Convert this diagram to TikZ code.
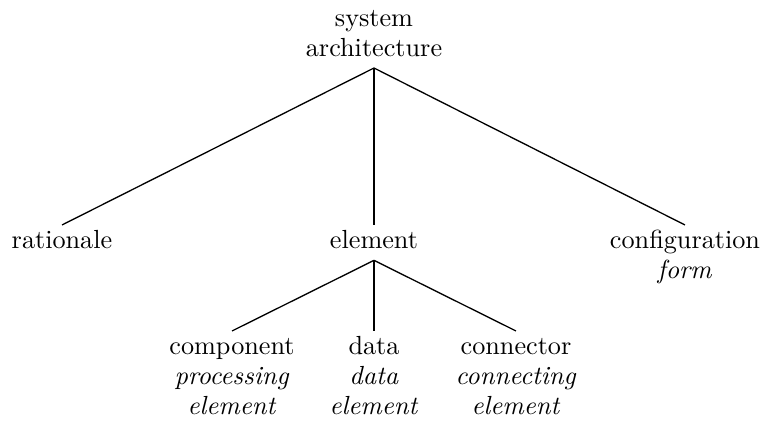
\documentclass[tikz,border=0pt]{standalone}
\begin{document}
\begin{tikzpicture}[x=0.3817pt, y=-0.3817pt,
  treenode/.style={align=center, inner xsep=0pt, inner ysep=1pt, outer sep=0pt,
    font=\fontsize{10}{11.5}\selectfont},
  edge/.style={line width=0.5pt}]
  \useasboundingbox (0,0) rectangle (762,421);

  % root
  \node[treenode, anchor=south] (sys) at (374,68) {\strut system\\architecture\strut};

  % first level
  \node[treenode, anchor=north] (rat) at (62,225) {\strut rationale\strut};
  \node[treenode, anchor=north] (ele) at (374,225) {\strut element\strut};
  \node[treenode, anchor=north] (cfg) at (685,225) {\strut configuration\\\textit{form}\strut};

  % second level
  \node[treenode, anchor=north] (cmp) at (232,331) {\strut component\\\textit{processing}\\\textit{element}\strut};
  \node[treenode, anchor=north] (dat) at (374,331) {\strut data\\\textit{data}\\\textit{element}\strut};
  \node[treenode, anchor=north] (con) at (516,331) {\strut connector\\\textit{connecting}\\\textit{element}\strut};

  % edges
  \draw[edge] (sys.south) -- (rat.north);
  \draw[edge] (sys.south) -- (ele.north);
  \draw[edge] (sys.south) -- (cfg.north);
  \draw[edge] (ele.south) -- (cmp.north);
  \draw[edge] (ele.south) -- (dat.north);
  \draw[edge] (ele.south) -- (con.north);
\end{tikzpicture}
\end{document}
